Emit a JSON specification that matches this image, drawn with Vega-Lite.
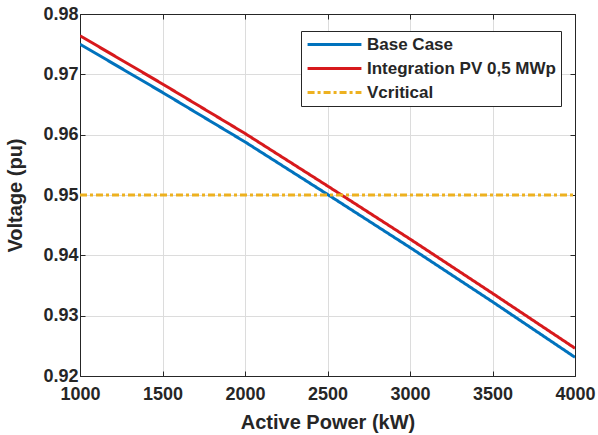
{
  "$schema": "https://vega.github.io/schema/vega-lite/v6.json",
  "width": 495,
  "height": 362,
  "autosize": {"type": "none"},
  "padding": {"left": 80, "top": 14, "right": 23, "bottom": 59},
  "background": "white",
  "config": {
    "font": "Liberation Sans",
    "view": {"stroke": "#262626", "strokeWidth": 1},
    "axis": {
      "labelFont": "Liberation Sans",
      "labelFontSize": 18,
      "labelFontWeight": "bold",
      "labelColor": "#262626",
      "labelFlush": false,
      "titleFont": "Liberation Sans",
      "titleFontSize": 20,
      "titleFontWeight": "bold",
      "titleColor": "#262626",
      "gridColor": "#dcdcdc",
      "gridWidth": 1,
      "domainColor": "#262626",
      "tickColor": "#262626",
      "tickSize": -5
    }
  },
  "datasets": {
    "curves": [
      {"power": 1000, "voltage": 0.9750, "series": "Base Case"},
      {"power": 1500, "voltage": 0.9670, "series": "Base Case"},
      {"power": 2000, "voltage": 0.9588, "series": "Base Case"},
      {"power": 2500, "voltage": 0.9501, "series": "Base Case"},
      {"power": 3000, "voltage": 0.9413, "series": "Base Case"},
      {"power": 3500, "voltage": 0.9323, "series": "Base Case"},
      {"power": 4000, "voltage": 0.9231, "series": "Base Case"},
      {"power": 1000, "voltage": 0.9764, "series": "Integration PV 0,5 MWp"},
      {"power": 1500, "voltage": 0.9684, "series": "Integration PV 0,5 MWp"},
      {"power": 2000, "voltage": 0.9602, "series": "Integration PV 0,5 MWp"},
      {"power": 2500, "voltage": 0.9515, "series": "Integration PV 0,5 MWp"},
      {"power": 3000, "voltage": 0.9427, "series": "Integration PV 0,5 MWp"},
      {"power": 3500, "voltage": 0.9337, "series": "Integration PV 0,5 MWp"},
      {"power": 4000, "voltage": 0.9246, "series": "Integration PV 0,5 MWp"},
      {"power": 1000, "voltage": 0.95, "series": "Vcritical"},
      {"power": 4000, "voltage": 0.95, "series": "Vcritical"}
    ]
  },
  "layer": [
    {
      "data": {"name": "curves"},
      "mark": {"type": "line", "strokeWidth": 3, "clip": true},
      "encoding": {
        "x": {
          "field": "power", "type": "quantitative",
          "scale": {"domain": [1000, 4000], "nice": false},
          "axis": {"title": "Active Power (kW)", "values": [1000, 1500, 2000, 2500, 3000, 3500, 4000], "format": "d", "grid": true, "labelPadding": 14, "titlePadding": 9}
        },
        "y": {
          "field": "voltage", "type": "quantitative",
          "scale": {"domain": [0.92, 0.98], "nice": false, "zero": false},
          "axis": {"title": "Voltage (pu)", "values": [0.92, 0.93, 0.94, 0.95, 0.96, 0.97, 0.98], "format": ".2f", "grid": true, "labelPadding": 7, "titlePadding": 17}
        },
        "color": {
          "field": "series", "type": "nominal",
          "scale": {"domain": ["Base Case", "Integration PV 0,5 MWp", "Vcritical"], "range": ["#0072BD", "#D7191C", "#EDB120"]},
          "legend": {"title": null, "orient": "none", "legendX": 221, "legendY": 17, "symbolType": "stroke", "symbolSize": 2900, "symbolStrokeWidth": 3, "clipHeight": 17, "labelFont": "Liberation Sans", "labelFontSize": 17, "labelFontWeight": "bold", "labelColor": "#262626", "strokeColor": "#262626", "fillColor": "white", "padding": 5, "rowPadding": 6, "labelOffset": 4, "labelLimit": 400}
        },
        "strokeDash": {
          "field": "series", "type": "nominal",
          "scale": {"domain": ["Base Case", "Integration PV 0,5 MWp", "Vcritical"], "range": [[1, 0], [1, 0], [7, 3, 3, 3]]},
          "legend": {"title": null, "orient": "none", "legendX": 221, "legendY": 17, "symbolType": "stroke", "symbolSize": 2900, "symbolStrokeWidth": 3, "clipHeight": 17, "labelFont": "Liberation Sans", "labelFontSize": 17, "labelFontWeight": "bold", "labelColor": "#262626", "strokeColor": "#262626", "fillColor": "white", "padding": 5, "rowPadding": 6, "labelOffset": 4, "labelLimit": 400}
        }
      }
    },
    {
      "data": {"name": "curves"},
      "mark": {"type": "line", "opacity": 0},
      "encoding": {
        "x": {
          "field": "power", "type": "quantitative",
          "scale": {"domain": [1000, 4000], "nice": false},
          "axis": {"orient": "top", "title": null, "labels": false, "grid": false, "values": [1000, 1500, 2000, 2500, 3000, 3500, 4000]}
        },
        "y": {
          "field": "voltage", "type": "quantitative",
          "scale": {"domain": [0.92, 0.98], "nice": false, "zero": false},
          "axis": {"orient": "right", "title": null, "labels": false, "grid": false, "values": [0.92, 0.93, 0.94, 0.95, 0.96, 0.97, 0.98]}
        }
      }
    }
  ],
  "resolve": {"axis": {"x": "independent", "y": "independent"}}
}
